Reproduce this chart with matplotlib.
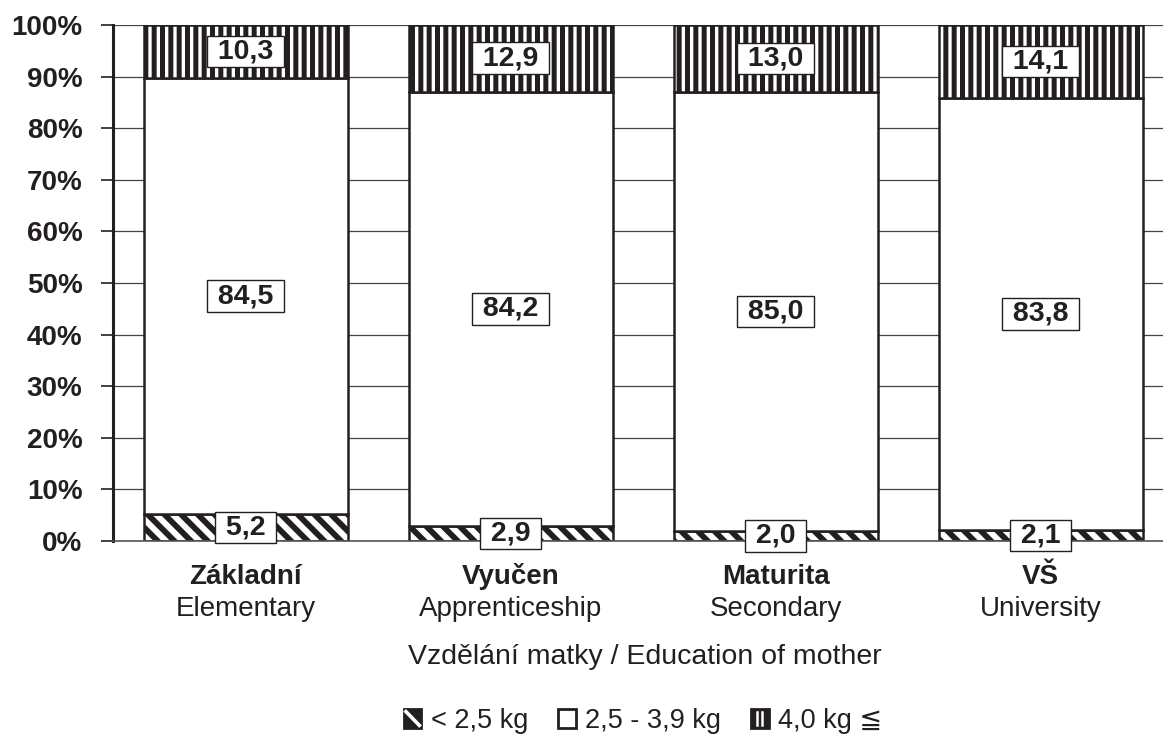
import numpy as np
import matplotlib
matplotlib.use('Agg')
import matplotlib.pyplot as plt
from matplotlib.patches import Rectangle
from matplotlib.lines import Line2D
import matplotlib.transforms as mtransforms

plt.rcParams['font.family'] = ['Liberation Sans', 'DejaVu Sans']

cats_cz = ['Základní', 'Vyučen', 'Maturita', 'VŠ']
cats_en = ['Elementary', 'Apprenticeship', 'Secondary', 'University']

low = [5.2, 2.9, 2.0, 2.1]
mid = [84.5, 84.2, 85.0, 83.8]
high = [10.3, 12.9, 13.0, 14.1]

legend_labels = ['< 2,5 kg', '2,5 - 3,9 kg', '4,0 kg ≦']

ink = '#231f20'

fig = plt.figure(figsize=(11.63, 7.40), dpi=100)
ax = fig.add_axes([0.0972, 0.2689, 0.9028, 0.6973])

x = np.arange(len(cats_cz))
w = 0.77
low = np.array(low)
mid = np.array(mid)
high = np.array(high)

with plt.rc_context({'hatch.linewidth': 4.2, 'hatch.color': ink}):
    ax.bar(x, low, w, color='white', edgecolor=ink, linewidth=1.8,
           hatch='\\\\', zorder=2)
ax.bar(x, mid, w, bottom=low, color='white', edgecolor=ink, linewidth=1.8, zorder=2)
with plt.rc_context({'hatch.linewidth': 3.6, 'hatch.color': ink}):
    ax.bar(x, high, w, bottom=low + mid, color='white', edgecolor=ink,
           linewidth=1.8, hatch='||', zorder=2)

box = dict(boxstyle='square,pad=0.1', facecolor='white', edgecolor=ink, linewidth=1.0)
for i in range(len(x)):
    for val, bot in [(low[i], 0), (mid[i], low[i]), (high[i], low[i] + mid[i])]:
        ax.text(x[i], bot + val / 2, ' ' + f'{val:.1f}'.replace('.', ',') + ' ',
                ha='center', va='center', fontsize=20.5, fontweight='bold', color=ink,
                bbox=box, zorder=5)

ax.set_xlim(-0.5, 3.462)
ax.set_ylim(0, 100)
ax.set_yticks(np.arange(0, 101, 10))
ax.set_yticklabels([f'{v}%' for v in range(0, 101, 10)],
                   fontsize=20, fontweight='bold', color=ink)
ax.tick_params(axis='y', length=9, width=1.2, color=ink, pad=13)
ax.set_xticks([])
ax.yaxis.grid(True, color='#444444', linewidth=0.9, zorder=0)
ax.set_axisbelow(True)
for s in ['top', 'right']:
    ax.spines[s].set_visible(False)
ax.spines['left'].set_linewidth(2.2)
ax.spines['left'].set_color(ink)
ax.spines['bottom'].set_color('#555555')
ax.spines['bottom'].set_linewidth(1.2)

trans = mtransforms.blended_transform_factory(ax.transData, fig.transFigure)
for i in range(len(x)):
    ax.text(x[i], 1 - 577 / 740, cats_cz[i], transform=trans, ha='center',
            va='center', fontsize=20, fontweight='bold', color=ink)
    ax.text(x[i], 1 - 609 / 740, cats_en[i], transform=trans, ha='center',
            va='center', fontsize=20, color=ink)
fig.text(645 / 1163, 1 - 657 / 740, 'Vzdělání matky / Education of mother',
         ha='center', va='center', fontsize=20.5, color=ink)


# legend keys: small squares, black with white stripes for the hatched groups
class Key:
    def __init__(self, kind):
        self.kind = kind


class KeyHandler:
    def legend_artist(self, legend, orig, fontsize, handlebox):
        x0, y0 = -handlebox.xdescent, -handlebox.ydescent
        kw, kh = handlebox.width, handlebox.height
        t = handlebox.get_transform()
        face = 'white' if orig.kind == 'plain' else ink
        r = Rectangle((x0, y0), kw, kh, facecolor=face, edgecolor=ink, lw=2.0, transform=t)
        handlebox.add_artist(r)
        if orig.kind == 'diag':
            handlebox.add_artist(Line2D([x0 + 0.12 * kw, x0 + 0.88 * kw],
                                        [y0 + 0.88 * kh, y0 + 0.12 * kh],
                                        color='white', lw=2.6, transform=t))
        elif orig.kind == 'vert':
            for fx in (0.36, 0.64):
                handlebox.add_artist(Line2D([x0 + fx * kw, x0 + fx * kw],
                                            [y0 + 0.12 * kh, y0 + 0.88 * kh],
                                            color='white', lw=1.8, transform=t))
        return r


keys = [Key('diag'), Key('plain'), Key('vert')]
fig.legend(keys, legend_labels, loc='center',
           bbox_to_anchor=(643 / 1163, 1 - 721 / 740),
           handler_map={Key: KeyHandler()},
           ncol=3, frameon=False, fontsize=19.5, handlelength=0.65, handleheight=0.65,
           handletextpad=0.35, columnspacing=1.1, labelcolor=ink)

fig.savefig('out.png', dpi=100)
